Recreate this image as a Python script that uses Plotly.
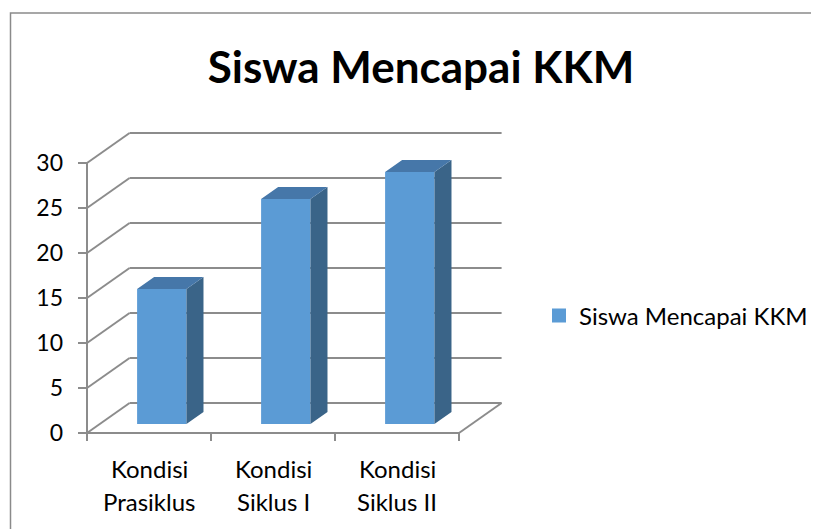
import plotly.graph_objects as go

# ---- data ----
categories = ["Kondisi Prasiklus", "Kondisi Siklus I", "Kondisi Siklus II"]
values = [15, 25, 28]
y_ticks = [0, 5, 10, 15, 20, 25, 30]
series_name = "Siswa Mencapai KKM"
chart_title = "Siswa Mencapai KKM"

# ---- style ----
FRONT = "#5B9BD5"
TOP = "#4677A9"
SIDE = "#3A6488"
GRID = "#8c8c8c"
FONT = "Lato"
OFF = 8          # page body margin

W, H = 819 - OFF, 529 - OFF

DX, DY = 0.3435, 3.333      # oblique depth projection (data units for full depth)
BAR_FRONT, BAR_BACK = 0.3, 0.7
BAR_W = 0.398
TICK_X = 9 / 124
TICK_Y = 8 / 9

n = len(categories)
ymax = y_ticks[-1]

shapes = []


def seg(x0, y0, x1, y1, color=GRID, width=2):
    shapes.append(dict(type="line", xref="x", yref="y", x0=x0, y0=y0, x1=x1, y1=y1,
                       line=dict(color=color, width=width), layer="below"))


for t in y_ticks:
    seg(DX, t + DY, n + DX, t + DY)     # back wall gridline
    seg(0, t, DX, t + DY)               # side wall diagonal
    seg(-TICK_X, t, 0, t)               # y tick mark
seg(0, 0, 0, ymax)                      # front value axis
seg(0, 0, n, 0)                         # floor front edge
seg(n, 0, n + DX, DY)                   # floor right edge
for k in range(n + 1):
    seg(k, 0, k, -TICK_Y)               # category boundary ticks

fig = go.Figure()

base = BAR_FRONT * DY
xc = [i + 0.5 + BAR_FRONT * DX for i in range(n)]
fig.add_trace(go.Bar(x=xc, y=values, base=base, width=BAR_W,
                     marker=dict(color=FRONT, line=dict(width=0)),
                     showlegend=False, hoverinfo="skip"))

ddx = (BAR_BACK - BAR_FRONT) * DX
ddy = (BAR_BACK - BAR_FRONT) * DY
sx, sy, tx, ty = [], [], [], []
for c, v in zip(xc, values):
    xl, xr = c - BAR_W / 2, c + BAR_W / 2
    yb, yt = base, base + v
    sx += [xr, xr, xr + ddx, xr + ddx, xr, None]
    sy += [yb, yt, yt + ddy, yb + ddy, yb, None]
    tx += [xl, xr, xr + ddx, xl + ddx, xl, None]
    ty += [yt, yt, yt + ddy, yt + ddy, yt, None]

fig.add_trace(go.Scatter(x=sx, y=sy, fill="toself", fillcolor=SIDE, mode="lines",
                         line=dict(width=0, color=SIDE), showlegend=False, hoverinfo="skip"))
fig.add_trace(go.Scatter(x=tx, y=ty, fill="toself", fillcolor=TOP, mode="lines",
                         line=dict(width=0, color=TOP), showlegend=False, hoverinfo="skip"))

# legend entry
fig.add_trace(go.Scatter(x=[None], y=[None], mode="markers", name=series_name,
                         marker=dict(symbol="square", size=14, color=FRONT, line=dict(width=0))))

annotations = []
for i, c in enumerate(categories):
    first, rest = c.split(" ", 1)
    for line, shift in ((first, -35), (rest, -68)):
        annotations.append(dict(x=i + 0.5, y=0, xref="x", yref="y", text=line, showarrow=False,
                                xanchor="center", yanchor="middle", yshift=shift,
                                font=dict(family=FONT, size=24, color="#000000")))

# chart border (paper coords relative to plot area)
PW, PH = 433, 311
shapes.append(dict(type="rect", xref="paper", yref="paper",
                   x0=(10.5 - 70) / PW, x1=(830 - 70) / PW,
                   y0=(442 - 540) / PH, y1=(442 - 13) / PH,
                   line=dict(color="#8a8a8a", width=1.5), layer="below"))

fig.update_layout(
    width=W, height=H,
    margin=dict(l=70 - OFF, r=W - (503 - OFF), t=131 - OFF, b=H - (442 - OFF), autoexpand=False),
    paper_bgcolor="white", plot_bgcolor="white",
    title=dict(text=chart_title, x=(421 - OFF) / W, xanchor="center", xref="container",
               y=1 - (68 - OFF) / H, yanchor="middle", yref="container",
               font=dict(family=FONT, size=44, color="#000000", weight="bold")),
    xaxis=dict(range=[-17 / 124, 416 / 124], showgrid=False, zeroline=False,
               showticklabels=False, ticks="", showline=False, fixedrange=True),
    yaxis=dict(range=[-1, 302 / 9], showgrid=False, zeroline=False, tickvals=y_ticks,
               ticks="", showline=False, ticklabelstandoff=6,
               tickfont=dict(family=FONT, size=23, color="#000000"), fixedrange=True),
    legend=dict(xref="container", yref="container", x=(539 - OFF) / W, y=1 - (316 - OFF) / H,
                xanchor="left", yanchor="middle",
                font=dict(family=FONT, size=24, color="#000000"), bgcolor="rgba(0,0,0,0)"),
    shapes=shapes, annotations=annotations, showlegend=True,
)

fig.write_html("out.html")
